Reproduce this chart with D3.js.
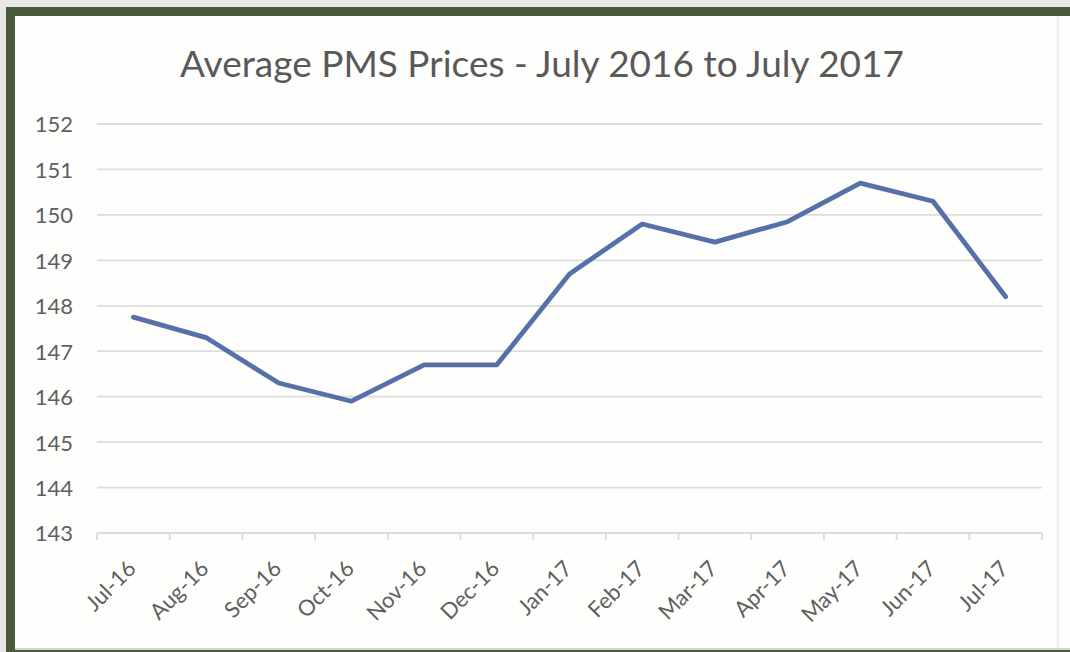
<!DOCTYPE html>
<html><head><meta charset="utf-8">
<script src="https://cdn.jsdelivr.net/npm/d3@7"></script>
<style>html,body{margin:0;padding:0;background:#e7e7e5;}svg{display:block;}</style>
</head><body>
<script>
const categories = ["Jul-16","Aug-16","Sep-16","Oct-16","Nov-16","Dec-16","Jan-17","Feb-17","Mar-17","Apr-17","May-17","Jun-17","Jul-17"];
const prices = [147.75,147.3,146.3,145.9,146.7,146.7,148.7,149.8,149.4,149.85,150.7,150.3,148.2];
const yTicks = [143,144,145,146,147,148,149,150,151,152];
const title = "Average PMS Prices - July 2016 to July 2017";

const W = 1070, H = 652;
const FONT = "Lato, 'Open Sans', sans-serif";
const svg = d3.select("body").append("svg").attr("width", W).attr("height", H);
svg.append("rect").attr("x",0).attr("y",0).attr("width",W).attr("height",H).attr("fill","#e7e7e5");
svg.append("rect").attr("x",6).attr("y",7).attr("width",W-6).attr("height",H-7).attr("fill","#485a3b");
svg.append("rect").attr("x",15).attr("y",16).attr("width",W-15).attr("height",632).attr("fill","#fefefd");
svg.append("line").attr("x1",1058).attr("x2",1058).attr("y1",16).attr("y2",648).attr("stroke","#eeeeec").attr("stroke-width",2);
svg.append("line").attr("x1",15).attr("x2",W).attr("y1",649).attr("y2",649).attr("stroke","#d8d6d2").attr("stroke-width",2);

const pLeft = 97, pRight = 1042, pTop = 124, pBottom = 533;
const x = d3.scaleBand().domain(categories).range([pLeft, pRight]);
const y = d3.scaleLinear().domain([143,152]).range([pBottom, pTop]);

svg.append("text").attr("x", 542).attr("y", 77).attr("text-anchor","middle")
  .attr("font-family",FONT).attr("font-size",37).attr("fill","#595959")
  .text(title);

// gridlines
svg.append("g").selectAll("line").data(yTicks).join("line")
  .attr("x1", pLeft).attr("x2", pRight).attr("y1", d=>y(d)).attr("y2", d=>y(d))
  .attr("stroke","#dcdcdc").attr("stroke-width",1.8);

// y axis labels
const yAxis = d3.axisLeft(y).tickValues(yTicks).tickSize(0).tickPadding(0);
const gy = svg.append("g").attr("transform",`translate(73,0)`).call(yAxis);
gy.select(".domain").remove();
gy.selectAll("text").attr("font-family",FONT).attr("font-size",22).attr("fill","#5f5f5f").attr("dy","0.36em");

// x axis
const xAxis = d3.axisBottom(x).tickSize(0).tickPadding(0);
const gx = svg.append("g").attr("transform",`translate(0,${pBottom})`).call(xAxis);
gx.select(".domain").remove();
gx.selectAll("text").attr("font-family",FONT).attr("font-size",22).attr("fill","#5f5f5f")
  .attr("text-anchor","end").attr("dy",0).attr("y",0)
  .attr("transform","translate(4,37) rotate(-45)");
// tick marks at category boundaries
const bounds = categories.map(c=>x(c)).concat([pRight]);
svg.append("g").selectAll("line").data(bounds).join("line")
  .attr("x1",d=>d).attr("x2",d=>d).attr("y1",pBottom).attr("y2",pBottom+7)
  .attr("stroke","#dcdcdc").attr("stroke-width",1.8);

// line
const line = d3.line().x((d,i)=>x(categories[i])+x.bandwidth()/2).y(d=>y(d));
svg.append("path").datum(prices).attr("d",line).attr("fill","none")
  .attr("stroke","#5670a8").attr("stroke-width",4.8).attr("stroke-linejoin","round").attr("stroke-linecap","round");
</script>
</body></html>
